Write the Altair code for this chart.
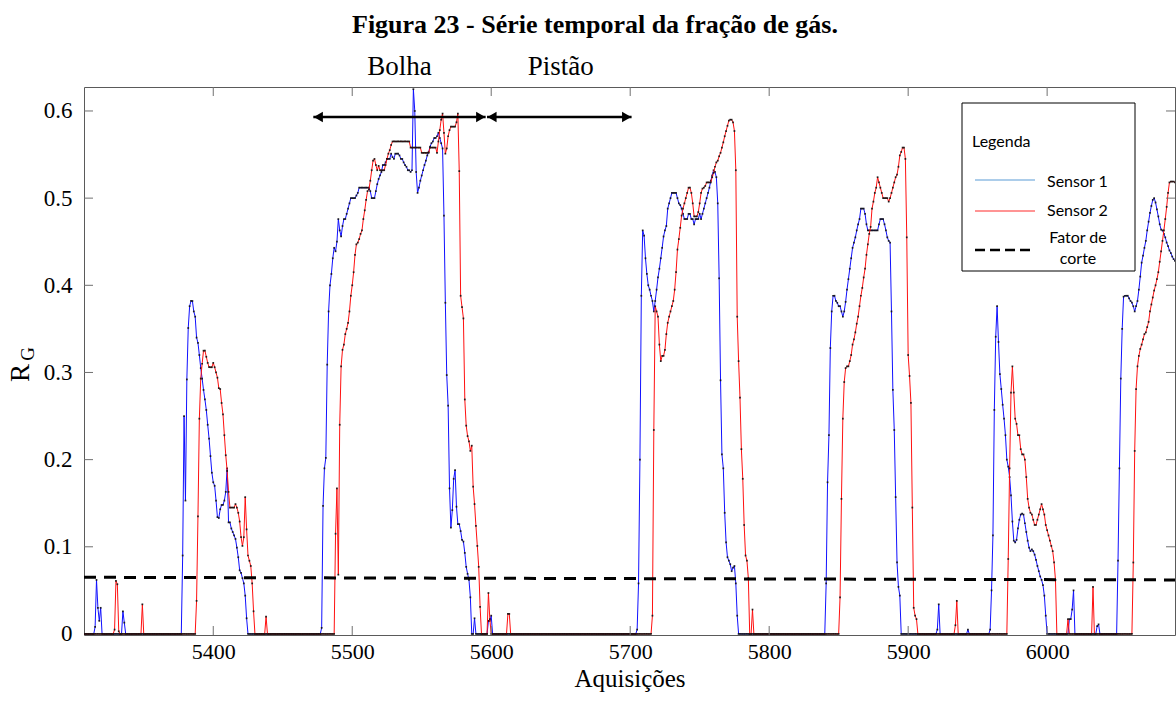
import altair as alt
import pandas as pd

# ---------------- data ----------------
acq_first, acq_last = 5307, 6092

# Sensor 1 (blue): (first acquisition of burst, values); elsewhere R_G = 0
sensor1_bursts = [
    (5315, [0.008, 0.062, 0.030, 0.015, 0.030]),
    (5335, [0.026, 0.013]),
    (5378, [0.090, 0.250, 0.153, 0.292, 0.351, 0.376, 0.382, 0.382, 0.370, 0.364,
            0.340, 0.334, 0.320, 0.305, 0.293, 0.280, 0.269, 0.257, 0.240, 0.224,
            0.204, 0.185, 0.174, 0.170, 0.153, 0.134, 0.133, 0.143, 0.148, 0.148,
            0.153, 0.163, 0.190, 0.128, 0.128, 0.121, 0.117, 0.113, 0.109, 0.099,
            0.088, 0.073, 0.070, 0.064, 0.058, 0.044, 0.018]),
    (5478, [0.007, 0.147, 0.190, 0.202, 0.309, 0.370, 0.400, 0.413, 0.431, 0.443,
            0.439, 0.450, 0.476, 0.463, 0.456, 0.468, 0.476, 0.476, 0.482, 0.488,
            0.494, 0.500, 0.500, 0.500, 0.500, 0.503, 0.506, 0.512, 0.512, 0.512,
            0.512, 0.512, 0.512, 0.512, 0.512, 0.508, 0.500, 0.500, 0.500, 0.508,
            0.516, 0.522, 0.526, 0.530, 0.538, 0.538, 0.541, 0.545, 0.545, 0.545,
            0.551, 0.547, 0.545, 0.551, 0.551, 0.551, 0.549, 0.545, 0.545, 0.541,
            0.538, 0.536, 0.532, 0.532, 0.530, 0.532, 0.625, 0.600, 0.530, 0.506,
            0.512, 0.520, 0.526, 0.532, 0.538, 0.543, 0.549, 0.553, 0.559, 0.563,
            0.565, 0.569, 0.569, 0.571, 0.575, 0.569, 0.563, 0.557, 0.480, 0.380,
            0.297, 0.262, 0.167, 0.122, 0.142, 0.178, 0.188, 0.146, 0.126, 0.126,
            0.118, 0.108, 0.106, 0.093, 0.077, 0.069, 0.062, 0.042, 0.000, 0.000,
            0.018]),
    (5598, [0.015, 0.015, 0.021]),
    (5705, [0.005, 0.058, 0.200, 0.388, 0.463, 0.457, 0.431, 0.413, 0.400, 0.395,
            0.388, 0.382, 0.370, 0.382, 0.395, 0.409, 0.419, 0.431, 0.443, 0.456,
            0.463, 0.468, 0.488, 0.494, 0.500, 0.506, 0.506, 0.506, 0.506, 0.500,
            0.494, 0.492, 0.488, 0.482, 0.476, 0.476, 0.476, 0.482, 0.482, 0.476,
            0.476, 0.470, 0.476, 0.476, 0.476, 0.482, 0.476, 0.482, 0.488, 0.494,
            0.500, 0.506, 0.512, 0.520, 0.526, 0.532, 0.530, 0.524, 0.494, 0.408,
            0.291, 0.206, 0.190, 0.139, 0.105, 0.088, 0.084, 0.080, 0.072, 0.076,
            0.078, 0.058, 0.021]),
    (5841, [0.058, 0.174, 0.228, 0.328, 0.370, 0.388, 0.388, 0.382, 0.380, 0.376,
            0.376, 0.370, 0.364, 0.370, 0.381, 0.395, 0.407, 0.419, 0.431, 0.443,
            0.449, 0.455, 0.463, 0.470, 0.476, 0.488, 0.488, 0.488, 0.482, 0.470,
            0.463, 0.463, 0.463, 0.463, 0.463, 0.463, 0.463, 0.463, 0.470, 0.476,
            0.476, 0.476, 0.470, 0.463, 0.455, 0.451, 0.449, 0.370, 0.280, 0.234,
            0.157, 0.082, 0.054, 0.044]),
    (5921, [0.005, 0.034]),
    (5943, [0.005]),
    (5959, [0.005, 0.050, 0.113, 0.257, 0.341, 0.376, 0.335, 0.298, 0.281, 0.263,
            0.247, 0.228, 0.200, 0.192, 0.180, 0.159, 0.129, 0.107, 0.105, 0.108,
            0.121, 0.131, 0.137, 0.138, 0.137, 0.127, 0.117, 0.107, 0.099, 0.095,
            0.097, 0.095, 0.091, 0.085, 0.078, 0.072, 0.066, 0.062, 0.056, 0.044,
            0.021]),
    (6016, [0.017, 0.017, 0.028, 0.050]),
    (6036, [0.009, 0.011]),
    (6051, [0.084, 0.190, 0.293, 0.350, 0.387, 0.388, 0.388, 0.388, 0.385, 0.382,
            0.380, 0.376, 0.370, 0.376, 0.382, 0.395, 0.410, 0.426, 0.434, 0.443,
            0.451, 0.463, 0.473, 0.483, 0.491, 0.498, 0.500, 0.495, 0.487, 0.479,
            0.470, 0.464, 0.463, 0.459, 0.455, 0.449, 0.445, 0.440, 0.437, 0.433,
            0.430, 0.428]),
]

# Sensor 2 (red)
sensor2_bursts = [
    (5329, [0.005, 0.061, 0.057, 0.003]),
    (5349, [0.034]),
    (5388, [0.038, 0.135, 0.247, 0.293, 0.310, 0.325, 0.325, 0.318, 0.311, 0.306,
            0.306, 0.306, 0.311, 0.306, 0.300, 0.294, 0.282, 0.281, 0.265, 0.252,
            0.228, 0.205, 0.187, 0.163, 0.145, 0.145, 0.145, 0.145, 0.149, 0.145,
            0.139, 0.129, 0.111, 0.101, 0.111, 0.157, 0.120, 0.090, 0.084, 0.078,
            0.058, 0.026]),
    (5438, [0.020]),
    (5488, [0.115, 0.167, 0.068, 0.240, 0.307, 0.326, 0.332, 0.344, 0.350, 0.357,
            0.370, 0.388, 0.400, 0.415, 0.435, 0.447, 0.449, 0.453, 0.459, 0.463,
            0.476, 0.486, 0.498, 0.508, 0.510, 0.520, 0.532, 0.543, 0.545, 0.538,
            0.532, 0.537, 0.532, 0.532, 0.532, 0.532, 0.538, 0.545, 0.551, 0.555,
            0.561, 0.565, 0.565, 0.565, 0.565, 0.565, 0.565, 0.565, 0.565, 0.565,
            0.565, 0.565, 0.565, 0.565, 0.558, 0.558, 0.558, 0.558, 0.558, 0.558,
            0.558, 0.558, 0.552, 0.552, 0.552, 0.552, 0.552, 0.552, 0.558, 0.558,
            0.558, 0.558, 0.558, 0.552, 0.565, 0.578, 0.590, 0.597, 0.575, 0.551,
            0.557, 0.571, 0.578, 0.582, 0.582, 0.582, 0.582, 0.587, 0.597, 0.531,
            0.388, 0.375, 0.362, 0.269, 0.239, 0.227, 0.221, 0.210, 0.216, 0.169,
            0.149, 0.124, 0.101, 0.077, 0.031]),
    (5598, [0.047, 0.017]),
    (5612, [0.023, 0.023]),
    (5716, [0.021, 0.234, 0.376, 0.370, 0.364, 0.332, 0.313, 0.319, 0.319, 0.326,
            0.344, 0.357, 0.364, 0.370, 0.376, 0.382, 0.395, 0.415, 0.441, 0.453,
            0.466, 0.480, 0.488, 0.494, 0.500, 0.506, 0.512, 0.512, 0.506, 0.494,
            0.479, 0.479, 0.479, 0.484, 0.494, 0.506, 0.511, 0.512, 0.514, 0.518,
            0.518, 0.518, 0.518, 0.524, 0.529, 0.536, 0.541, 0.543, 0.548, 0.552,
            0.558, 0.564, 0.571, 0.577, 0.583, 0.589, 0.590, 0.590, 0.587, 0.577,
            0.532, 0.364, 0.313, 0.271, 0.212, 0.178, 0.125, 0.090, 0.084, 0.064]),
    (5788, [0.028]),
    (5851, [0.042, 0.155, 0.247, 0.289, 0.305, 0.307, 0.307, 0.313, 0.320, 0.332,
            0.338, 0.346, 0.356, 0.364, 0.376, 0.388, 0.397, 0.409, 0.419, 0.435,
            0.447, 0.459, 0.467, 0.488, 0.496, 0.506, 0.512, 0.524, 0.518, 0.512,
            0.506, 0.500, 0.500, 0.500, 0.500, 0.496, 0.500, 0.506, 0.512, 0.518,
            0.524, 0.527, 0.536, 0.549, 0.553, 0.558, 0.558, 0.545, 0.455, 0.320,
            0.296, 0.265, 0.145, 0.030, 0.021, 0.017]),
    (5934, [0.010, 0.038]),
    (5972, [0.086, 0.190, 0.277, 0.307, 0.277, 0.247, 0.241, 0.228, 0.228, 0.212,
            0.206, 0.206, 0.200, 0.180, 0.155, 0.145, 0.139, 0.137, 0.131, 0.125,
            0.125, 0.131, 0.137, 0.143, 0.149, 0.143, 0.137, 0.125, 0.119, 0.113,
            0.107, 0.101, 0.095, 0.082, 0.062]),
    (6015, [0.017]),
    (6033, [0.054]),
    (6062, [0.082, 0.210, 0.281, 0.307, 0.319, 0.327, 0.332, 0.338, 0.344, 0.346,
            0.352, 0.358, 0.370, 0.378, 0.386, 0.394, 0.400, 0.407, 0.415, 0.427,
            0.439, 0.451, 0.463, 0.476, 0.490, 0.506, 0.518, 0.519, 0.519, 0.519,
            0.518]),
]

cut_acq = [5307, 6092]          # "Fator de corte" line ends
cut_rg = [0.065, 0.062]

x_ticks = [5400, 5500, 5600, 5700, 5800, 5900, 6000]
y_ticks = [0.0, 0.1, 0.2, 0.3, 0.4, 0.5, 0.6]

arrow_from = [5472, 5597]       # Bolha, Pistão
arrow_to = [5596, 5701]
arrow_rg = 0.593
region_labels = ["Bolha", "Pistão"]
region_label_acq = [5534, 5650]


def expand(bursts):
    vals = {}
    for start, seq in bursts:
        for i, v in enumerate(seq):
            vals[start + i] = v
    rows = []
    for a in range(acq_first, acq_last + 1):
        rows.append((a, vals.get(a, 0.0)))
    return rows


s1 = pd.DataFrame(expand(sensor1_bursts), columns=["aq", "rg"])
s2 = pd.DataFrame(expand(sensor2_bursts), columns=["aq", "rg"])
cut = pd.DataFrame({"aq": cut_acq, "rg": cut_rg})
xt = pd.DataFrame({"aq": x_ticks})
yt = pd.DataFrame({"rg": y_ticks[1:]})
arrows = pd.DataFrame({"a1": arrow_from, "a2": arrow_to, "rg": [arrow_rg] * 2})
rlab = pd.DataFrame({"aq": region_label_acq, "txt": region_labels})
one = pd.DataFrame({"k": [0]})

W, H = 1091, 548
SERIF = "Liberation Serif"
SANS = "Lato"

xs = alt.Scale(domain=[acq_first, acq_last], nice=False, zero=False)
ys = alt.Scale(domain=[-0.0012, 0.6275], nice=False, zero=False)

xax = alt.Axis(values=x_ticks, grid=False, domain=False, ticks=False, format="d",
               labelFont=SERIF, labelFontSize=22, labelColor="black", labelPadding=6,
               title="Aquisições", titleFont=SERIF, titleFontSize=25,
               titleFontWeight="normal", titleColor="black", titlePadding=4)
yax = alt.Axis(values=y_ticks, grid=False, domain=False, ticks=False,
               labelFont=SERIF, labelFontSize=23, labelColor="black", labelPadding=12,
               labelExpr="datum.value == 0 ? '0' : format(datum.value, '.1f')",
               title=None)

X = alt.X("aq:Q", scale=xs, axis=xax)
Y = alt.Y("rg:Q", scale=ys, axis=yax)

line1 = alt.Chart(s1).mark_line(color="#1010ff", strokeWidth=1, clip=True).encode(x=X, y=Y)
dots1 = alt.Chart(s1).mark_square(color="#111111", size=3, opacity=0.9, clip=True).encode(x="aq:Q", y="rg:Q")
line2 = alt.Chart(s2).mark_line(color="#ff1010", strokeWidth=1, clip=True).encode(x="aq:Q", y="rg:Q")
dots2 = alt.Chart(s2).mark_square(color="#111111", size=3, opacity=0.9, clip=True).encode(x="aq:Q", y="rg:Q")

cutline = alt.Chart(cut).mark_line(color="black", strokeWidth=3, strokeDash=[12, 8]).encode(
    x="aq:Q", y="rg:Q")

TICKC = "#707070"
tb = alt.Chart(xt).mark_rule(color=TICKC).encode(x="aq:Q", y=alt.value(H), y2=alt.value(H - 9))
tt = alt.Chart(xt).mark_rule(color=TICKC).encode(x="aq:Q", y=alt.value(0), y2=alt.value(9))
tl = alt.Chart(yt).mark_rule(color=TICKC).encode(y="rg:Q", x=alt.value(0), x2=alt.value(9))
tr = alt.Chart(yt).mark_rule(color=TICKC).encode(y="rg:Q", x=alt.value(W), x2=alt.value(W - 9))

arr_line = alt.Chart(arrows).mark_rule(color="black", strokeWidth=2.5).encode(
    x="a1:Q", x2="a2:Q", y="rg:Q")
arr_l = alt.Chart(arrows).mark_point(shape="triangle-left", filled=True, color="black",
                                     size=110, opacity=1, xOffset=5).encode(x="a1:Q", y="rg:Q")
arr_r = alt.Chart(arrows).mark_point(shape="triangle-right", filled=True, color="black",
                                     size=110, opacity=1, xOffset=-5).encode(x="a2:Q", y="rg:Q")
reg_txt = alt.Chart(rlab).mark_text(font=SERIF, fontSize=27, color="black",
                                    baseline="middle", align="center").encode(
    x="aq:Q", y=alt.value(-20), text="txt:N")

title_txt = alt.Chart(one).mark_text(font=SERIF, fontSize=26, fontWeight="bold", color="black",
                                     align="center", baseline="middle").encode(
    x=alt.value(511), y=alt.value(-62), text=alt.value("Figura 23 - Série temporal da fração de gás."))

r_txt = alt.Chart(one).mark_text(font=SERIF, fontSize=27, angle=270, color="black",
                                 align="center", baseline="middle").encode(
    x=alt.value(-63), y=alt.value(286), text=alt.value("R"))
g_txt = alt.Chart(one).mark_text(font=SERIF, fontSize=19, angle=270, color="black",
                                 align="center", baseline="middle").encode(
    x=alt.value(-56), y=alt.value(267), text=alt.value("G"))

# legend box
leg_box = alt.Chart(one).mark_rect(fill="white", stroke="black", strokeWidth=1).encode(
    x=alt.value(878), x2=alt.value(1051), y=alt.value(16), y2=alt.value(184))
leg_title = alt.Chart(one).mark_text(font=SANS, fontSize=16, align="left", baseline="middle",
                                     color="black").encode(
    x=alt.value(888), y=alt.value(55), text=alt.value("Legenda"))
leg_l1 = alt.Chart(one).mark_rule(color="#5b9bd5", strokeWidth=1.2).encode(
    x=alt.value(891), x2=alt.value(951), y=alt.value(93))
leg_l2 = alt.Chart(one).mark_rule(color="#ff2a2a", strokeWidth=1.2).encode(
    x=alt.value(891), x2=alt.value(951), y=alt.value(124))
leg_l3 = alt.Chart(one).mark_rule(color="black", strokeWidth=2.5, strokeDash=[10, 5]).encode(
    x=alt.value(891), x2=alt.value(951), y=alt.value(163))
leg_t1 = alt.Chart(one).mark_text(font=SANS, fontSize=16, align="left", baseline="middle",
                                  color="black").encode(
    x=alt.value(963), y=alt.value(95), text=alt.value("Sensor 1"))
leg_t2 = alt.Chart(one).mark_text(font=SANS, fontSize=16, align="left", baseline="middle",
                                  color="black").encode(
    x=alt.value(963), y=alt.value(124), text=alt.value("Sensor 2"))
leg_t3 = alt.Chart(one).mark_text(font=SANS, fontSize=16, align="center", baseline="middle",
                                  color="black").encode(
    x=alt.value(994), y=alt.value(151), text=alt.value("Fator de"))
leg_t4 = alt.Chart(one).mark_text(font=SANS, fontSize=16, align="center", baseline="middle",
                                  color="black").encode(
    x=alt.value(994), y=alt.value(172), text=alt.value("corte"))

chart = alt.layer(
    line1, dots1, line2, dots2, cutline,
    tb, tt, tl, tr,
    arr_line, arr_l, arr_r, reg_txt, title_txt, r_txt, g_txt,
    leg_box, leg_title, leg_l1, leg_l2, leg_l3, leg_t1, leg_t2, leg_t3, leg_t4,
).properties(
    width=W, height=H,
    padding={"left": 84, "top": 87, "right": 1, "bottom": 66},
    autosize=alt.AutoSizeParams(type="none"),
    background="white",
).configure_view(stroke="#5a5a5a", strokeWidth=1)

chart.save("out.html", embed_options={"renderer": "svg", "actions": False})
